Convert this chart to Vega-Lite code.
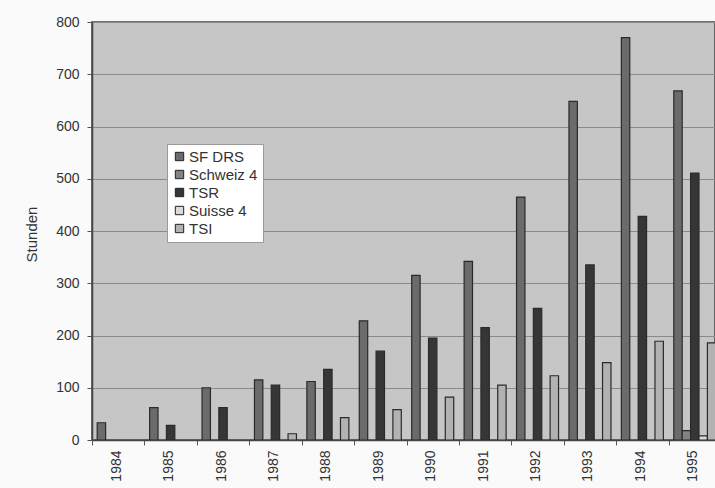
{
  "$schema": "https://vega.github.io/schema/vega-lite/v6.json",
  "width": 623,
  "height": 418,
  "autosize": {"type": "none"},
  "padding": {"left": 92, "top": 22, "right": 0, "bottom": 48},
  "background": "#fafafa",
  "config": {
    "font": "Liberation Sans",
    "view": {"fill": "#c6c6c6", "stroke": "#444444", "strokeWidth": 1.5}
  },
  "data": {
    "values": [
      {"Jahr": "1984", "Sender": "SF DRS", "Stunden": 33},
      {"Jahr": "1985", "Sender": "SF DRS", "Stunden": 62},
      {"Jahr": "1985", "Sender": "TSR", "Stunden": 28},
      {"Jahr": "1986", "Sender": "SF DRS", "Stunden": 100},
      {"Jahr": "1986", "Sender": "TSR", "Stunden": 62},
      {"Jahr": "1987", "Sender": "SF DRS", "Stunden": 115},
      {"Jahr": "1987", "Sender": "TSR", "Stunden": 105},
      {"Jahr": "1987", "Sender": "TSI", "Stunden": 12},
      {"Jahr": "1988", "Sender": "SF DRS", "Stunden": 112},
      {"Jahr": "1988", "Sender": "TSR", "Stunden": 135},
      {"Jahr": "1988", "Sender": "TSI", "Stunden": 43},
      {"Jahr": "1989", "Sender": "SF DRS", "Stunden": 228},
      {"Jahr": "1989", "Sender": "TSR", "Stunden": 170},
      {"Jahr": "1989", "Sender": "TSI", "Stunden": 58},
      {"Jahr": "1990", "Sender": "SF DRS", "Stunden": 315},
      {"Jahr": "1990", "Sender": "TSR", "Stunden": 195},
      {"Jahr": "1990", "Sender": "TSI", "Stunden": 82},
      {"Jahr": "1991", "Sender": "SF DRS", "Stunden": 342},
      {"Jahr": "1991", "Sender": "TSR", "Stunden": 215},
      {"Jahr": "1991", "Sender": "TSI", "Stunden": 105},
      {"Jahr": "1992", "Sender": "SF DRS", "Stunden": 465},
      {"Jahr": "1992", "Sender": "TSR", "Stunden": 252},
      {"Jahr": "1992", "Sender": "TSI", "Stunden": 123},
      {"Jahr": "1993", "Sender": "SF DRS", "Stunden": 648},
      {"Jahr": "1993", "Sender": "TSR", "Stunden": 335},
      {"Jahr": "1993", "Sender": "TSI", "Stunden": 148},
      {"Jahr": "1994", "Sender": "SF DRS", "Stunden": 770},
      {"Jahr": "1994", "Sender": "TSR", "Stunden": 428},
      {"Jahr": "1994", "Sender": "TSI", "Stunden": 189},
      {"Jahr": "1995", "Sender": "SF DRS", "Stunden": 668},
      {"Jahr": "1995", "Sender": "Schweiz 4", "Stunden": 18},
      {"Jahr": "1995", "Sender": "TSR", "Stunden": 511},
      {"Jahr": "1995", "Sender": "Suisse 4", "Stunden": 8},
      {"Jahr": "1995", "Sender": "TSI", "Stunden": 186}
    ]
  },
  "mark": {"type": "bar", "clip": true, "stroke": "#2a2a2a", "strokeWidth": 1.2},
  "encoding": {
    "x": {
      "field": "Jahr",
      "type": "nominal",
      "sort": null,
      "scale": {
        "domain": ["1984", "1985", "1986", "1987", "1988", "1989", "1990", "1991", "1992", "1993", "1994", "1995"],
        "range": [0, 629],
        "paddingInner": 0,
        "paddingOuter": 0
      },
      "axis": {
        "title": null,
        "labelAngle": 270,
        "labelFontSize": 14,
        "labelColor": "#333333",
        "labelPadding": 5,
        "labelOffset": -2,
        "tickBand": "extent",
        "tickSize": 5,
        "tickColor": "#555555",
        "domainColor": "#444444",
        "domainWidth": 1.5,
        "grid": false
      }
    },
    "xOffset": {
      "field": "Sender",
      "type": "nominal",
      "scale": {
        "domain": ["SF DRS", "Schweiz 4", "TSR", "Suisse 4", "TSI"],
        "paddingInner": 0,
        "paddingOuter": 0.62
      }
    },
    "y": {
      "field": "Stunden",
      "type": "quantitative",
      "scale": {"domain": [0, 800], "nice": false},
      "axis": {
        "values": [0, 100, 200, 300, 400, 500, 600, 700, 800],
        "title": "Stunden",
        "titleFontSize": 15,
        "titleFontWeight": "normal",
        "titleColor": "#333333",
        "titleX": -61,
        "titleY": 212,
        "titleAngle": 270,
        "titleAlign": "center",
        "titleBaseline": "middle",
        "labelFontSize": 14,
        "labelColor": "#333333",
        "labelPadding": 8,
        "tickSize": 5,
        "tickColor": "#555555",
        "domainColor": "#444444",
        "domainWidth": 1.5,
        "grid": true,
        "gridColor": "#8a8a8a",
        "gridWidth": 1
      }
    },
    "color": {
      "field": "Sender",
      "type": "nominal",
      "scale": {
        "domain": ["SF DRS", "Schweiz 4", "TSR", "Suisse 4", "TSI"],
        "range": ["#6b6b6b", "#828282", "#363636", "#dadada", "#b2b2b2"]
      },
      "legend": {
        "orient": "none",
        "legendX": 75,
        "legendY": 122,
        "title": null,
        "fillColor": "#ffffff",
        "strokeColor": "#9a9a9a",
        "padding": 5,
        "symbolType": "square",
        "symbolSize": 70,
        "symbolStrokeColor": "#222222",
        "symbolStrokeWidth": 1,
        "labelFontSize": 15,
        "labelColor": "#333333",
        "rowPadding": 2,
        "labelOffset": 2
      }
    }
  }
}
